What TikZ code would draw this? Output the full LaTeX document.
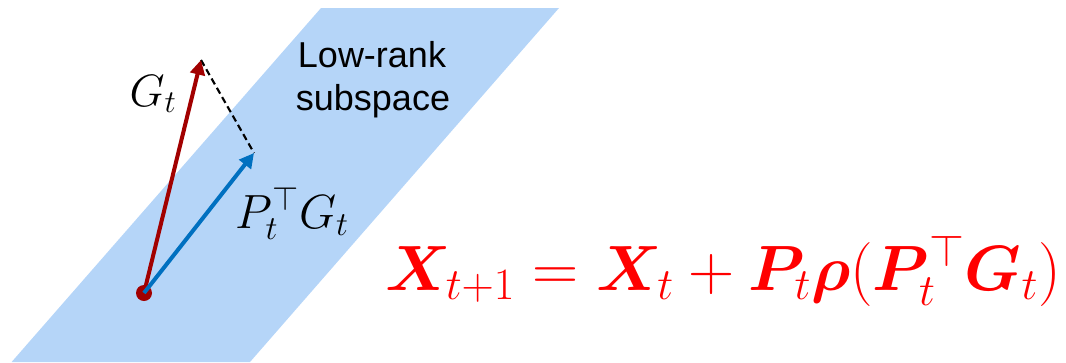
\RequirePackage{fix-cm}
\documentclass[tikz,border=0pt]{standalone}
\usepackage{amsmath,bm}
\usepackage{fontspec}
\newfontfamily\arialfont{Liberation Sans}
\usetikzlibrary{arrows.meta}
\definecolor{planeblue}{RGB}{181,213,248}
\definecolor{gradred}{RGB}{162,0,0}
\definecolor{projblue}{RGB}{0,112,192}
\definecolor{eqred}{RGB}{255,0,0}
\tikzset{
  vecarrow/.style={line width=3pt,-{Triangle[length=11pt,width=11pt]}},
  labeltext/.style={inner sep=0pt,font=\fontsize{34}{40}\selectfont},
  sanslabel/.style={inner sep=0pt,anchor=base,font=\arialfont\fontsize{27}{32}\selectfont},
}
\begin{document}
\begin{tikzpicture}[x=0.75pt,y=-0.75pt]
\useasboundingbox (0,0) rectangle (1066,362);
% low-rank plane
\fill[planeblue] (11.6,362) -- (321,8) -- (559,8) -- (250,362) -- cycle;
% points
\coordinate (o) at (144,293);
\coordinate (g) at (201,60);
\coordinate (p) at (254,153);
\draw[black,line width=1.6pt,dash pattern=on 5pt off 3pt] (g) -- (p);
\draw[vecarrow,gradred,shorten <=2pt] (o) -- (g);
\fill[gradred] (o) circle (6pt);
\draw[vecarrow,projblue] (o) -- (p);
% labels
\node[sanslabel] (lr1) at (372,67) {Low-rank};
\node[sanslabel] (lr2) at (373,110) {subspace};
\node[labeltext,anchor=base] (gl) at (153,106) {$G_t$};
\node[labeltext,anchor=base,font=\fontsize{36}{42}\selectfont] (pl) at (292,228) {$P_t^\top G_t$};
\node[inner sep=0pt,anchor=base,text=eqred,font=\fontsize{48}{56}\selectfont] (eq) at (723,290)
  {$\bm{X}_{t+1} = \bm{X}_t + \bm{P}_t\bm{\rho}(\bm{P}_t^\top \bm{G}_t)$};
\end{tikzpicture}
\end{document}
